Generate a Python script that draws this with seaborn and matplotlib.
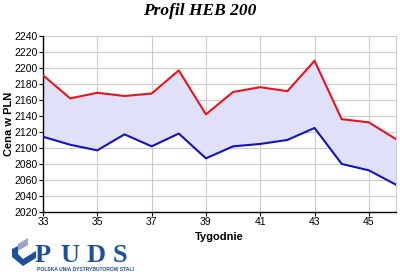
import matplotlib
matplotlib.use("Agg")
import matplotlib.pyplot as plt
import seaborn as sns
import pandas as pd
from matplotlib.patches import Polygon

weeks = [33, 34, 35, 36, 37, 38, 39, 40, 41, 42, 43, 44, 45, 46]
max_price = [2191, 2162, 2169, 2165, 2168, 2197, 2142, 2170, 2176, 2171, 2209, 2136, 2132, 2111]
min_price = [2114, 2104, 2097, 2117, 2102, 2118, 2087, 2102, 2105, 2110, 2125, 2080, 2072, 2054]
x_ticks = [33, 35, 37, 39, 41, 43, 45]
y_ticks = list(range(2020, 2241, 20))

df = pd.DataFrame({"week": weeks, "max": max_price, "min": min_price})

sns.set_style("white")
plt.rcParams['font.family'] = ['Liberation Sans', 'DejaVu Sans']
plt.rcParams['text.color'] = 'black'
plt.rcParams['axes.labelcolor'] = 'black'

W, H = 400, 277
fig = plt.figure(figsize=(4, 2.77), dpi=100)
ax = fig.add_axes([0.1075, 0.235, 0.8825, 0.635])

ax.fill_between(df["week"], df["min"], df["max"], color="#e0e0f9", zorder=1, linewidth=0)
sns.lineplot(data=df, x="week", y="max", color="#e8141b", linewidth=1.5, ax=ax, zorder=3)
sns.lineplot(data=df, x="week", y="min", color="#1212c8", linewidth=1.5, ax=ax, zorder=3)

ax.set_xlim(33, 46)
ax.set_ylim(2020, 2240)
ax.set_xticks(x_ticks)
ax.set_yticks(y_ticks)
ax.grid(True, color="#cccccc", linewidth=0.8, zorder=0)
ax.set_axisbelow(True)
ax.tick_params(axis="both", labelsize=7.5, length=3, width=0.8, direction="out", pad=1,
               colors="black", left=True, bottom=True)
ax.spines["top"].set_visible(False)
for side in ["left", "bottom"]:
    ax.spines[side].set_color("black")
    ax.spines[side].set_linewidth(1.0)
ax.spines["right"].set_color("#cccccc")

ax.set_xlabel("Tygodnie", fontsize=8, fontweight="bold", labelpad=3, color="black")
ax.set_ylabel("Cena w PLN", fontsize=8, fontweight="bold", color="black")
ax.yaxis.set_label_coords(-0.083, 0.5)

fig.text(0.5, 1 - 11 / H, "Profil HEB 200", ha="center", va="center", fontsize=12.5,
         fontweight="bold", fontstyle="italic", family="Liberation Serif", color="black")

# logo
def px(pts):
    return [[x / W, 1 - y / H] for x, y in pts]

blue_logo = "#1d4f9c"
chev = Polygon(px([(12, 249), (12, 257), (23, 266), (36, 258), (36, 251), (23, 259), (18, 254), (18, 246)]),
               closed=True, transform=fig.transFigure, facecolor=blue_logo, edgecolor="none")
fig.patches.append(chev)
chev2 = Polygon(px([(18, 251), (18, 244), (28, 238), (28, 245)]), closed=True,
                transform=fig.transFigure, facecolor="#9aa6c8", edgecolor="none")
fig.patches.append(chev2)
for letter, xpos in zip(["P", "U", "D", "S"], [35, 60, 87, 113]):
    fig.text(xpos / W, 1 - 255 / H, letter, ha="left", va="center", fontsize=19,
             fontweight="bold", color=blue_logo, family="Liberation Serif")
fig.text(37 / W, 1 - 269 / H, "POLSKA UNIA DYSTRYBUTORÓW STALI", ha="left", va="center",
         fontsize=3.6, fontweight="bold", color=blue_logo)

fig.savefig("out.png", dpi=100)
